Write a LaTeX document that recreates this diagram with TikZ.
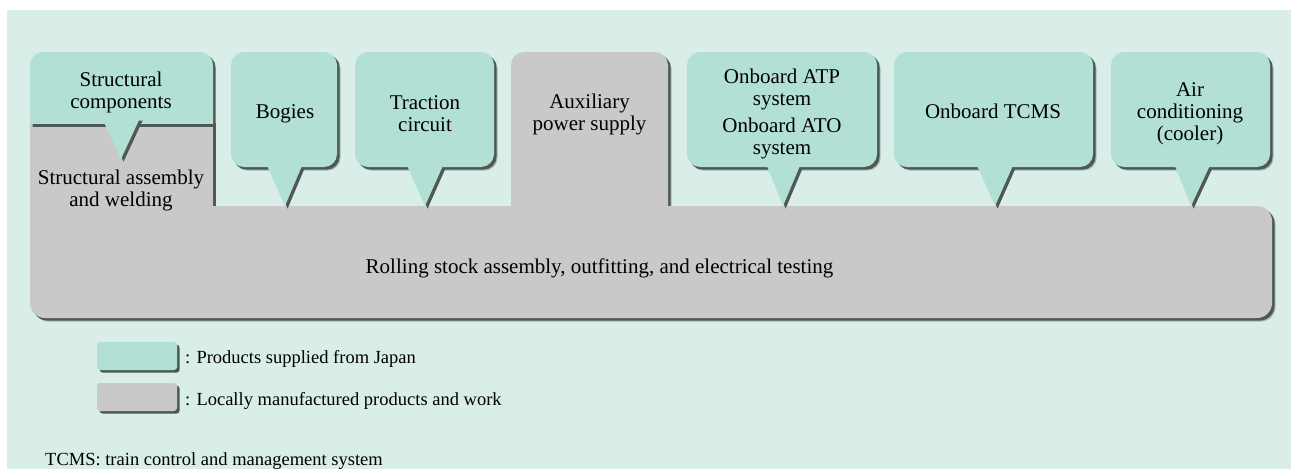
\documentclass[tikz,border=0pt]{standalone}
\usepackage{fontspec}
\setmainfont{Liberation Serif}
\newfontfamily\tmsfont{Liberation Serif}
\definecolor{bgmint}{RGB}{217,238,232}
\definecolor{jpgreen}{RGB}{178,224,213}
\definecolor{locgray}{RGB}{200,201,200}
\definecolor{shadowc}{RGB}{78,88,85}
\tikzset{
  shd/.style={fill=shadowc, xshift=2.6pt, yshift=-2.6pt},
  shdsoft/.style={fill=shadowc, fill opacity=0.35, xshift=3.6pt, yshift=-3.6pt},
  jp/.style={fill=jpgreen},
  loc/.style={fill=locgray},
  txt/.style={font=\tmsfont\fontsize{21pt}{22pt}\selectfont, align=center, inner sep=0pt, text=black},
  smalltxt/.style={font=\tmsfont\fontsize{18.5pt}{21pt}\selectfont, inner sep=0pt, text=black},
}
\newcommand\mycallout[7]{% left, right, bottom, ptr left, ptr right, tip x, tip y
  \fill[shdsoft, rounded corners=13pt] (#1,52) rectangle (#2,#3);
  \fill[shd, rounded corners=13pt] (#1,52) rectangle (#2,#3);
  \fill[shd] (#4,#3-6) -- (#6,#7) -- (#5,#3-6) -- cycle;
  \fill[jp, rounded corners=13pt] (#1,52) rectangle (#2,#3);
  \fill[jp] (#4,#3-6) -- (#6,#7) -- (#5,#3-6) -- cycle;
}
\begin{document}
\begin{tikzpicture}[x=1pt,y=-1pt]
\useasboundingbox (0,0) rectangle (1291,469);
\fill[white] (0,0) rectangle (1291,469);
\fill[bgmint] (7,10) rectangle (1291,469);

% gray (locally manufactured) shapes: shadows
\fill[shdsoft, rounded corners=15pt] (30,206) rectangle (1272,318);
\fill[shd, rounded corners=15pt] (30,206) rectangle (1272,318);
\fill[shdsoft, rounded corners=13pt] (511,52) rectangle (668,260);
\fill[shd, rounded corners=13pt] (511,52) rectangle (668,260);
\fill[shd] (30,120) rectangle (213,260);
% gray fills
\fill[loc, rounded corners=15pt] (30,206) rectangle (1272,318);
\fill[loc, rounded corners=13pt] (511,52) rectangle (668,260);
\fill[loc] (30,120) rectangle (213,260);

% structural components (green top part)
\begin{scope}
  \clip (0,0) rectangle (1291,126);
  \fill[shd, rounded corners=13pt] (30,52) rectangle (213,160);
\end{scope}
\begin{scope}
  \clip (0,0) rectangle (1291,123);
  \fill[jp, rounded corners=13pt] (30,52) rectangle (213,160);
\end{scope}
\fill[shd] (102,118) -- (121,159) -- (140,118) -- cycle;
\fill[jp] (102,118) -- (121,159) -- (140,118) -- cycle;

% callouts
\mycallout{231}{337}{167}{265}{304}{285}{206}
\mycallout{355}{494}{167}{405}{445}{425}{206}
\mycallout{687}{877}{167}{765}{802}{783}{206}
\mycallout{894}{1093}{167}{975}{1015}{995}{206}
\mycallout{1111}{1270}{167}{1173}{1212}{1191}{206}

% texts
\node[txt] (sc)   at (121,92.5)  {Structural\\components};
\node[txt] (sa)   at (121,190.5) {Structural assembly\\and welding};
\node[txt] (bog)  at (285,114)   {Bogies};
\node[txt] (trac) at (425,113.5) {Traction\\circuit};
\node[txt] (aux)  at (589.5,114.3) {Auxiliary\\power supply};
\node[txt] (atp)  at (782,113.5) {Onboard ATP\\system\\[5pt]Onboard ATO\\system};
\node[txt] (tcms) at (993,111.7) {Onboard TCMS};
\node[txt] (air)  at (1190,114)  {Air\\conditioning\\(cooler)};
\node[txt] (roll) at (599.5,268.7) {Rolling stock assembly, outfitting, and electrical testing};

% legend
\fill[shd, rounded corners=3pt] (97,342) rectangle (177,370);
\fill[jp, rounded corners=3pt] (97,342) rectangle (177,370);
\fill[shd, rounded corners=3pt] (97,383) rectangle (177,411);
\fill[loc, rounded corners=3pt] (97,383) rectangle (177,411);
\node[smalltxt, anchor=west] (lg1) at (185,358.5) {: Products supplied from Japan};
\node[smalltxt, anchor=west] (lg2) at (185,401) {: Locally manufactured products and work};
\node[smalltxt, anchor=base west] (foot) at (45,465) {TCMS: train control and management system};
\end{tikzpicture}
\end{document}
